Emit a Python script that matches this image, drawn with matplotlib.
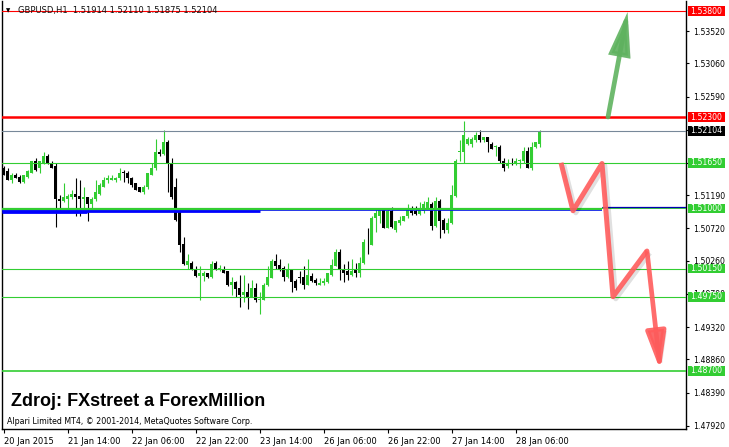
import matplotlib
matplotlib.use('Agg')
import matplotlib.pyplot as plt
from matplotlib.patches import Rectangle, FancyArrowPatch
from matplotlib.transforms import blended_transform_factory
import matplotlib.patheffects as pe

# ---------------- data ----------------
opens = [1.5158,1.5154,1.5141,1.5148,1.5145,1.5138,1.5145,1.5151,1.5167,1.5157,
         1.5165,1.5174,1.5165,1.5160,1.5114,1.5111,1.5114,1.5117,1.5121,1.5118,
         1.5113,1.5116,1.5107,1.5113,1.5121,1.5131,1.5140,1.5141,1.5141,1.5143,
         1.5152,1.5151,1.5144,1.5136,1.5130,1.5123,1.5130,1.5148,1.5157,1.5181,
         1.5177,1.5194,1.5165,1.5131,1.5096,1.5050,1.5020,1.5023,1.5015,1.5005,
         1.5005,1.5008,1.5003,1.5023,1.5013,1.5013,1.5011,1.4991,1.4996,1.4988,
         1.4978,1.4982,1.4975,1.4988,1.4971,1.4971,1.4991,1.5002,1.5025,1.5020,
         1.5016,1.5003,1.5013,1.4998,1.5003,1.5003,1.4992,1.5005,1.4999,1.4992,
         1.4995,1.4996,1.5006,1.5019,1.5039,1.5015,1.5011,1.5006,1.5013,1.5009,
         1.5023,1.5053,1.5049,1.5086,1.5090,1.5099,1.5073,1.5097,1.5069,1.5080,
         1.5083,1.5089,1.5100,1.5097,1.5093,1.5096,1.5101,1.5107,1.5076,1.5111,
         1.5084,1.5070,1.5079,1.5118,1.5180,1.5181,1.5191,1.5192,1.5198,1.5204,
         1.5197,1.5201,1.5192,1.5187,1.5188,1.5167,1.5161,1.5165,1.5164,1.5167,
         1.5167,1.5182,1.5158,1.5187,1.51914]
highs = [1.5161,1.5158,1.5150,1.5150,1.5147,1.5148,1.5155,1.5168,1.5172,1.5168,
         1.5180,1.5177,1.5167,1.5165,1.5120,1.5136,1.5121,1.5126,1.5144,1.5141,
         1.5131,1.5117,1.5116,1.5140,1.5137,1.5145,1.5147,1.5147,1.5145,1.5158,
         1.5155,1.5153,1.5145,1.5137,1.5131,1.5133,1.5151,1.5165,1.5199,1.5185,
         1.5212,1.5197,1.5172,1.5143,1.5099,1.5060,1.5036,1.5025,1.5018,1.5018,
         1.5012,1.5009,1.5025,1.5025,1.5020,1.5018,1.5012,1.5003,1.4998,1.5006,
         1.5006,1.4995,1.4999,1.4995,1.4981,1.4994,1.5019,1.5028,1.5035,1.5028,
         1.5018,1.5023,1.5015,1.5000,1.5012,1.5018,1.5028,1.5009,1.5002,1.5001,
         1.5001,1.5009,1.5028,1.5042,1.5043,1.5022,1.5026,1.5029,1.5023,1.5032,
         1.5057,1.5072,1.5089,1.5100,1.5101,1.5101,1.5100,1.5103,1.5083,1.5089,
         1.5090,1.5107,1.5104,1.5104,1.5109,1.5111,1.5116,1.5109,1.5117,1.5113,
         1.5087,1.5086,1.5134,1.5170,1.5198,1.5224,1.5201,1.5202,1.5209,1.5211,
         1.5202,1.5202,1.5194,1.5190,1.5190,1.5172,1.5170,1.5172,1.5172,1.5171,
         1.5188,1.5187,1.5194,1.5195,1.52110]
lows = [1.5147,1.5140,1.5137,1.5143,1.5136,1.5137,1.5144,1.5150,1.5154,1.5150,
        1.5164,1.5164,1.5157,1.5074,1.5096,1.5110,1.5101,1.5113,1.5089,1.5089,
        1.5101,1.5082,1.5101,1.5111,1.5120,1.5130,1.5137,1.5140,1.5138,1.5141,
        1.5138,1.5137,1.5131,1.5126,1.5123,1.5121,1.5128,1.5147,1.5155,1.5174,
        1.5176,1.5123,1.5114,1.5082,1.5039,1.5020,1.5015,1.5013,1.5003,1.4971,
        1.4998,1.5002,1.5002,1.5013,1.5011,1.5008,1.4990,1.4978,1.4975,1.4961,
        1.4968,1.4958,1.4974,1.4968,1.4951,1.4970,1.4990,1.5001,1.5015,1.5011,
        1.4998,1.5002,1.4982,1.4984,1.4994,1.4986,1.4991,1.4996,1.4991,1.4991,
        1.4992,1.4995,1.5005,1.5018,1.4999,1.4996,1.4999,1.5005,1.5003,1.5003,
        1.5022,1.5035,1.5048,1.5067,1.5079,1.5072,1.5072,1.5073,1.5067,1.5077,
        1.5082,1.5087,1.5091,1.5091,1.5091,1.5094,1.5099,1.5070,1.5074,1.5059,
        1.5066,1.5066,1.5078,1.5117,1.5167,1.5165,1.5190,1.5187,1.5195,1.5195,
        1.5195,1.5181,1.5184,1.5175,1.5165,1.5153,1.5158,1.5162,1.5162,1.5157,
        1.5165,1.5157,1.5155,1.5186,1.51875]
closes = [1.5148,1.5141,1.5148,1.5144,1.5138,1.5147,1.5153,1.5167,1.5155,1.5167,
          1.5174,1.5165,1.5158,1.5113,1.5111,1.5116,1.5118,1.5121,1.5117,1.5113,
          1.5117,1.5107,1.5114,1.5123,1.5133,1.5141,1.5143,1.5143,1.5144,1.5151,
          1.5151,1.5144,1.5133,1.5127,1.5124,1.5131,1.5150,1.5158,1.5181,1.5177,
          1.5194,1.5165,1.5116,1.5084,1.5049,1.5022,1.5025,1.5015,1.5005,1.5008,
          1.5008,1.5003,1.5022,1.5015,1.5016,1.5009,1.4991,1.4996,1.4986,1.4978,
          1.4982,1.4975,1.4988,1.4971,1.4972,1.4992,1.5003,1.5025,1.5019,1.5015,
          1.5003,1.5015,1.4996,1.4988,1.5002,1.4991,1.5006,1.4998,1.4994,1.4995,
          1.4998,1.5008,1.5020,1.5039,1.5013,1.5009,1.5006,1.5012,1.5009,1.5023,
          1.5053,1.5052,1.5087,1.5094,1.5100,1.5073,1.5097,1.5074,1.5082,1.5084,
          1.5089,1.5100,1.5094,1.5093,1.5099,1.5107,1.5109,1.5076,1.5111,1.5083,
          1.5070,1.5079,1.5120,1.5168,1.5181,1.5205,1.5199,1.5199,1.5204,1.5198,
          1.5201,1.5195,1.5185,1.5188,1.5167,1.5158,1.5165,1.5164,1.5167,1.5168,
          1.5182,1.5158,1.5188,1.5194,1.52104]

xtick_idx = [0, 16, 32, 48, 64, 80, 96, 112, 128]
xtick_labels = ['20 Jan 2015', '21 Jan 14:00', '22 Jan 06:00', '22 Jan 22:00',
                '23 Jan 14:00', '26 Jan 06:00', '26 Jan 22:00', '27 Jan 14:00',
                '28 Jan 06:00']
ytick_vals = [1.53520, 1.53060, 1.52590, 1.52120, 1.51650, 1.51190, 1.50720,
              1.50260, 1.49790, 1.49320, 1.48860, 1.48390, 1.47920]
# tick labels hidden behind the price boxes in the reference
ytick_hidden = [1.52120, 1.51650]

level_prices = [1.53800, 1.52300, 1.52104, 1.51650, 1.50150, 1.49750, 1.48700]
level_colors = ['#FF0000', '#FF0000', '#778899', '#32CD32', '#32CD32', '#32CD32', '#32CD32']
level_widths = [0.8, 1.8, 0.8, 0.8, 0.8, 0.8, 1.2]

label_prices = [1.53800, 1.52300, 1.52104, 1.51650, 1.51000, 1.50150, 1.49750, 1.48700]
label_colors = ['#FF0000', '#FF0000', '#000000', '#32CD32', '#32CD32', '#32CD32', '#32CD32', '#32CD32']

support_price = 1.51000
support_split = 149.6
blue_prices = [1.50975, 1.50962, 1.50953, 1.51018]
blue_starts = [-0.3, -0.3, -0.3, 149.6]
blue_ends = [149.6, 64.1, 20.85, 171.0]
blue_widths = [1.2, 2.0, 2.0, 0.9]

green_arrow_x = [151.1, 156.0]
green_arrow_y = [1.52300, 1.53790]
red_path_x = [139.35, 142.35, 149.6, 152.35, 160.85, 164.2]
red_path_y = [1.51650, 1.50970, 1.51640, 1.49750, 1.50400, 1.48700]

title_text = 'GBPUSD,H1  1.51914 1.52110 1.51875 1.52104'
source_text = 'Zdroj: FXstreet a ForexMillion'
copyright_text = 'Alpari Limited MT4, \u00a9 2001-2014, MetaQuotes Software Corp.'

# ---------------- figure ----------------
W, H = 729, 447
fig = plt.figure(figsize=(W / 100, H / 100), dpi=100)
fig.patch.set_facecolor('white')
ax_left, ax_right, ax_top, ax_bot = 2.3, 686.0, 1.0, 429.0
ax = fig.add_axes([ax_left / W, (H - ax_bot) / H, (ax_right - ax_left) / W, (ax_bot - ax_top) / H])
ax.set_facecolor('white')

px_per_bar = 4.0
x0_center = 3.6
ax.set_xlim((ax_left - x0_center) / px_per_bar, (ax_right - x0_center) / px_per_bar)
ax.set_ylim(1.47873, 1.53946)

# candles
idx = list(range(len(opens)))
bull_col = '#32CD32'
bear_col = '#000000'
min_h = 0.00013
for i, o, h, l, c in zip(idx, opens, highs, lows, closes):
    col = bull_col if c >= o else bear_col
    ax.vlines(i, l, h, color=col, linewidth=0.8, zorder=3)
    bot = min(o, c)
    hgt = max(abs(c - o), min_h)
    ax.bar(i, hgt, bottom=bot, width=0.7, color=col, linewidth=0, zorder=3)

# horizontal levels
for p, col, lw in zip(level_prices, level_colors, level_widths):
    ax.axhline(p, color=col, linewidth=lw, zorder=4)

# blue lines + support
for p, s, e, lw in zip(blue_prices, blue_starts, blue_ends, blue_widths):
    ax.hlines(p, s, e, color='#0000FF' if lw > 1 else '#0000B0', linewidth=lw, zorder=4)
ax.hlines(support_price, -0.3, support_split, color='#32CD32', linewidth=1.6, zorder=5)
ax.hlines(support_price + 0.00008, support_split, 171, color='#32CD32', linewidth=1.3, zorder=3.9)

shadow = dict(offset=(2, -1.5), alpha=0.12)

# green arrow
ga = FancyArrowPatch((green_arrow_x[0], green_arrow_y[0]), (green_arrow_x[1], green_arrow_y[1]),
                     arrowstyle='-|>,head_length=1.2,head_width=0.3', mutation_scale=20,
                     shrinkA=0, shrinkB=0, color='#5FB35F', alpha=0.9, linewidth=3.4,
                     zorder=6, joinstyle='miter')
ga.set_path_effects([pe.SimplePatchShadow(**shadow), pe.Normal()])
ax.add_patch(ga)

# red zigzag arrow
ax.plot(red_path_x[:-1], red_path_y[:-1], color='#FF5C5C', alpha=0.9, linewidth=3.6,
        solid_joinstyle='round', solid_capstyle='butt', zorder=6,
        path_effects=[pe.SimpleLineShadow(**shadow), pe.Normal()])
ra = FancyArrowPatch((red_path_x[-2], red_path_y[-2]), (red_path_x[-1], red_path_y[-1]),
                     arrowstyle='-|>,head_length=1.15,head_width=0.3', mutation_scale=20,
                     shrinkA=0, shrinkB=0, color='#FF5C5C', alpha=0.9, linewidth=3.4, zorder=6)
ra.set_path_effects([pe.SimplePatchShadow(**shadow), pe.Normal()])
ax.add_patch(ra)

# axes styling
ax.spines['top'].set_visible(False)
for s in ['left', 'bottom', 'right']:
    ax.spines[s].set_color('black')
    ax.spines[s].set_linewidth(1.0)
ax.yaxis.tick_right()
ax.set_yticks(ytick_vals)
ax.set_yticklabels(['' if v in ytick_hidden else '%.5f' % v for v in ytick_vals])
ax.tick_params(axis='y', which='both', direction='out', length=2.5, width=0.8,
               pad=2.5, labelsize=5.6, colors='black')
ax.set_xticks(xtick_idx)
ax.set_xticklabels(xtick_labels)
ax.tick_params(axis='x', direction='out', length=3, width=0.8, pad=2.5, labelsize=6, colors='black')
for lab in ax.get_xticklabels():
    lab.set_ha('left')

# right price label boxes (figure-level so they sit above tick labels)
tr = blended_transform_factory(fig.transFigure, ax.transData)
box_h = 9.6 * (1.53946 - 1.47873) / (ax_bot - ax_top)
for p, col in zip(label_prices, label_colors):
    r = Rectangle((687.7 / W, p - box_h / 2), (725.3 - 687.7) / W, box_h,
                  transform=tr, facecolor=col, edgecolor='none', zorder=5)
    fig.add_artist(r)
    fig.text(706.5 / W, p, '%.5f' % p, transform=tr, color='white', fontsize=5.6,
             ha='center', va='center', zorder=6)

# texts
fig.text(6 / W, 1 - 11 / H, '\u25bc', fontsize=4, ha='left', va='center', color='black')
fig.text(18 / W, 1 - 11 / H, title_text, fontsize=6, ha='left', va='center', color='#111111')
fig.text(11 / W, 1 - 401.5 / H, source_text, fontsize=13, fontweight='bold',
         family='Liberation Sans', ha='left', va='center', color='black')
fig.text(7 / W, 1 - 422 / H, copyright_text, fontsize=5.7, ha='left', va='center', color='black')

fig.savefig('out.png', dpi=100, facecolor='white')
